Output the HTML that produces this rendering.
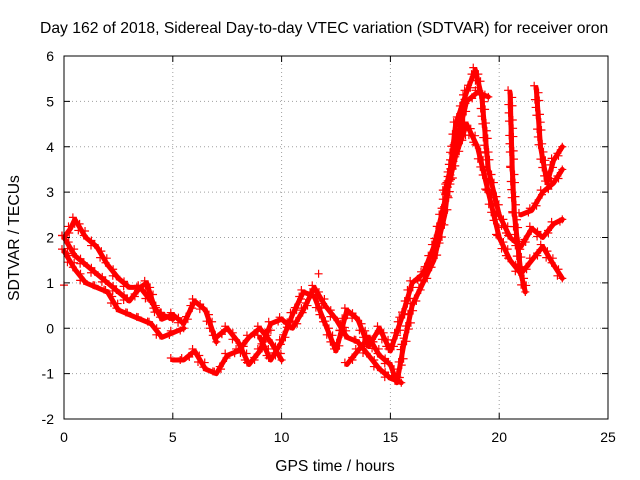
<!DOCTYPE html>
<html><head><meta charset="utf-8"><style>
body{margin:0;background:#fff}
svg{display:block;font-family:"Liberation Sans",sans-serif;font-size:14px}
.big{font-size:15.7px}
</style></head><body>
<svg id="chart" width="640" height="480">
<text class="big" x="40" y="33">Day 162 of 2018, Sidereal Day-to-day VTEC variation (SDTVAR) for receiver oron</text>
<text class="big" x="335" y="471" text-anchor="middle">GPS time / hours</text>
<text class="big" transform="translate(19,238) rotate(-90)" text-anchor="middle">SDTVAR / TECUs</text>
<g id="grid"></g><g id="ticks"></g><g id="marks"></g>
<rect x="64" y="56" width="544" height="363" fill="none" stroke="#000"/>
</svg>
<script>
const xTicks=[0,5,10,15,20,25];
const yTicks=[-2,-1,0,1,2,3,4,5,6];
const trackA=[[0,2.0],[0.3,2.2],[0.5,2.4],[1,2.0],[1.5,1.8],[2,1.4],[2.5,1.1],[3,0.9],[3.5,0.9],[4,0.6],[4.5,0.2],[5,0.3],[5.5,0.1],[6,0.6],[6.5,0.4],[7,-0.3]];
const trackB=[[0,1.7],[0.5,1.3],[1,1.0],[1.5,0.9],[2,0.8],[2.5,0.4],[3,0.3],[3.5,0.2],[4,0.1],[4.5,-0.2],[5,-0.1],[5.5,0.0]];
const trackC=[[0,2.0],[0.5,1.6],[1,1.4],[1.5,1.2],[2,1.0],[2.5,0.8],[3,0.6],[3.5,0.9],[3.8,1.0],[4.2,0.4],[4.5,0.3],[5,0.2]];
const trackD=[[5,-0.7],[5.5,-0.7],[6,-0.5],[6.5,-0.9],[7,-1.0],[7.5,-0.6],[8,-0.5],[8.5,-0.2],[9,0.0],[9.5,-0.3],[10,-0.7]];
const trackE=[[7,-0.2],[7.5,0.0],[8,-0.3],[8.5,-0.8],[9,-0.5],[9.5,0.1],[10,0.2],[10.5,0.0],[11,0.4],[11.5,0.9],[12,0.5],[12.5,0.2],[13,-0.2],[13.5,-0.3],[14,-0.6],[14.5,-0.9],[15,-1.1],[15.5,-1.2]];
const trackF=[[9,-0.2],[9.5,-0.7],[10,-0.3],[10.5,0.3],[11,0.8],[11.5,0.7],[12,0.1],[12.5,-0.5],[13,0.4],[13.5,0.2],[14,-0.4],[14.5,0.0],[15,-0.5],[15.5,0.2],[16,1.0],[16.5,1.2],[17,1.8],[17.5,2.8],[18,3.8],[18.5,4.5],[19,4.0],[19.5,3.0],[20,2.0],[20.5,1.5],[21,1.2],[21.5,1.5],[22,1.8],[22.5,1.4],[22.9,1.1]];
const trackG=[[13,-0.8],[13.5,-0.5],[14,-0.2],[14.5,-0.6],[15,-0.8],[15.3,-1.2],[15.6,-0.4],[16,0.5],[16.5,1.0],[17,1.5],[17.5,2.5],[18,4.5],[18.5,5.2],[18.9,5.7],[19.2,5.1],[19.5,3.5],[20,2.5],[20.5,2.0],[21,1.8],[21.5,2.2],[22,2.0],[22.5,2.3],[22.9,2.4]];
const trackH=[[17.5,3.0],[18,4.0],[18.5,5.0],[19,5.2],[19.5,5.1]];
const trackI=[[20.5,5.2],[20.6,3.5],[20.7,2.5],[21,1.2],[21.2,0.8]];
const trackJ=[[21.7,5.3],[21.9,4.0],[22.2,3.2],[22.5,3.7],[22.9,4.0]];
const trackK=[[21,2.5],[21.5,2.6],[22,3.0],[22.5,3.2],[22.9,3.5]];
const trackL=[[0,0.95]];
const trackM=[[11.7,1.2]];
const tracks=[trackA,trackB,trackC,trackD,trackE,trackF,trackG,trackH,trackI,trackJ,trackK,trackL,trackM];
const NS="http://www.w3.org/2000/svg";
const X=v=>64+v*544/25, Y=v=>419-(v+2)*363/8;
function mk(t,a,p){const e=document.createElementNS(NS,t);for(const k in a)e.setAttribute(k,a[k]);p.appendChild(e);return e;}
const grid=document.getElementById('grid'),ticks=document.getElementById('ticks'),marks=document.getElementById('marks');
xTicks.forEach(v=>{
 if(v>0&&v<25){const g=mk('line',{x1:X(v),x2:X(v),y1:56,y2:419,stroke:'#a0a0a0','stroke-dasharray':'1,3'},grid);
 
 }
 const t=mk('text',{x:X(v),y:442,'text-anchor':'middle'},ticks);t.textContent=v;
 
 
 mk('line',{x1:X(v),x2:X(v),y1:419,y2:413,stroke:'#000'},ticks);
 mk('line',{x1:X(v),x2:X(v),y1:56,y2:62,stroke:'#000'},ticks);
});
yTicks.forEach(v=>{
 if(v>-2&&v<6){const g=mk('line',{x1:64,x2:608,y1:Y(v),y2:Y(v),stroke:'#a0a0a0','stroke-dasharray':'1,3'},grid);
 
 }
 const t=mk('text',{x:54,y:Y(v)+5,'text-anchor':'end'},ticks);t.textContent=v;
 
 
 mk('line',{x1:64,x2:70,y1:Y(v),y2:Y(v),stroke:'#000'},ticks);
 mk('line',{x1:608,x2:602,y1:Y(v),y2:Y(v),stroke:'#000'},ticks);
});
function plus(g,x,y){
 const m=mk('path',{d:`M${x-4},${y}H${x+4}M${x},${y-4}V${y+4}`,stroke:'#f00','stroke-width':1.2},g);
 
 
}
tracks.forEach((tr,i)=>{
 const g=mk('g',{},marks);
 
 
 if(tr.length>1){
  const pl=mk('polyline',{points:tr.map(p=>X(p[0])+','+Y(p[1])).join(' '),fill:'none',stroke:'#f00','stroke-width':5,'stroke-linejoin':'round','stroke-linecap':'round'},g);
  
  
  for(let k=0;k<tr.length-1;k++){
   const x0=X(tr[k][0]),y0=Y(tr[k][1]),x1=X(tr[k+1][0]),y1=Y(tr[k+1][1]);
   const n=Math.max(1,Math.round(Math.hypot(x1-x0,y1-y0)/5));
   for(let s=0;s<n;s++){const f=s/n;plus(g,x0+(x1-x0)*f+((s%2)?2:-2),y0+(y1-y0)*f+((s%3)-1)*2);}
  }
 }
 const last=tr[tr.length-1];plus(g,X(last[0]),Y(last[1]));
});
</script>
</body></html>
